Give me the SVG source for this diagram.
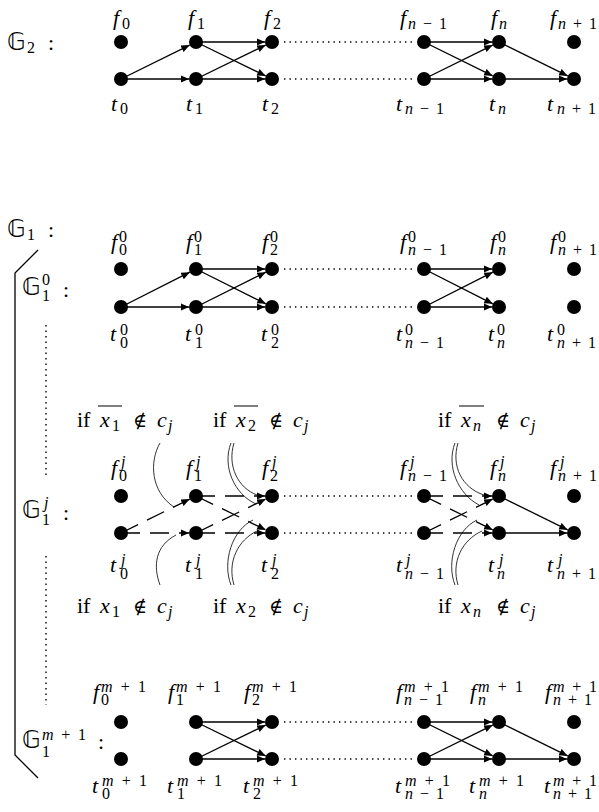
<svg xmlns="http://www.w3.org/2000/svg" width="599" height="812" viewBox="0 0 599 812">
<style>
text{font-family:"Liberation Serif","DejaVu Serif",serif;fill:#000}
.mi{font-style:italic;font-size:22px}
.mr{font-size:22px}
.si{font-style:italic;font-size:16px}
.sr{font-size:16px}
.bb{font-family:"DejaVu Sans","DejaVu Serif","Noto Sans",sans-serif;font-size:24px}
.ni{font-family:"DejaVu Serif","DejaVu Sans",serif;font-size:19px}
.e{stroke:#000;stroke-width:1.3;fill:none;marker-end:url(#ah)}
.d{stroke-dasharray:19 10}
.dt{stroke:#000;stroke-width:1.4;fill:none;stroke-dasharray:1.4 4.1}
.c{stroke:#000;stroke-width:0.8;fill:none}
.br{stroke:#000;stroke-width:1.3;fill:none}
circle{fill:#000}
</style>
<defs>
<marker id="ah" markerWidth="10" markerHeight="8" refX="8.5" refY="3.6" orient="auto" markerUnits="userSpaceOnUse"><path d="M0,0 L8.5,3.6 L0,7.2 z" fill="#000"/></marker>
</defs>

<!-- section labels -->
<g id="label-G2"><text class="bb" x="7" y="50">𝔾</text><text class="sr" x="27" y="53">2</text><text class="mr" x="48" y="50">:</text></g>
<g id="label-G1"><text class="bb" x="7" y="237">𝔾</text><text class="sr" x="27" y="240">1</text><text class="mr" x="48" y="237">:</text></g>
<g id="label-G10"><text class="bb" x="22" y="295">𝔾</text><text class="sr" x="42" y="285">0</text><text class="sr" x="42" y="301">1</text><text class="mr" x="63" y="297">:</text></g>
<g id="label-G1j"><text class="bb" x="22" y="518">𝔾</text><text class="si" x="44" y="508">j</text><text class="sr" x="42" y="525">1</text><text class="mr" x="63" y="520">:</text></g>
<g id="label-G1m"><text class="bb" x="22" y="748">𝔾</text><text class="sr" x="42" y="740" textLength="44" lengthAdjust="spacing"><tspan font-style="italic">m</tspan>+1</text><text class="sr" x="42" y="757">1</text><text class="mr" x="98" y="749">:</text></g>

<!-- bracket and vertical dots -->
<g id="bracket">
<path class="br" d="M38,250 L15,273 L15,755 L38,778"/>
<path class="dt" d="M46,325 L46,478"/>
<path class="dt" d="M46,556 L46,705"/>
</g>

<g id="connectors">
<!-- G2 -->
<path class="e" d="M121,79 L189.7,45.1"/>
<path class="e" d="M121,79 L189,79"/>
<path class="e" d="M196,42 L265,42"/>
<path class="e" d="M196,42 L265.7,75.9"/>
<path class="e" d="M196,79 L265.7,45.1"/>
<path class="e" d="M196,79 L265,79"/>
<path class="e" d="M424,42 L492,42"/>
<path class="e" d="M424,42 L492.7,75.9"/>
<path class="e" d="M424,79 L492.7,45.1"/>
<path class="e" d="M424,79 L492,79"/>
<path class="e" d="M499,42 L567.7,75.9"/>
<path class="e" d="M499,79 L567,79"/>
<path class="dt" d="M284,42 L413,42"/>
<path class="dt" d="M284,79 L413,79"/>
<!-- G1^0 -->
<path class="e" d="M121,307 L189.8,272.2"/>
<path class="e" d="M121,307 L189,307"/>
<path class="e" d="M196,269 L265,269"/>
<path class="e" d="M196,269 L265.8,303.8"/>
<path class="e" d="M196,307 L265.8,272.2"/>
<path class="e" d="M196,307 L265,307"/>
<path class="e" d="M424,269 L492,269"/>
<path class="e" d="M424,269 L492.8,303.8"/>
<path class="e" d="M424,307 L492.8,272.2"/>
<path class="e" d="M424,307 L492,307"/>
<path class="dt" d="M284,269 L413,269"/>
<path class="dt" d="M284,307 L413,307"/>
<!-- G1^j -->
<path class="e d" d="M121,533 L189.7,499.1"/>
<path class="e d" d="M121,533 L189,533"/>
<path class="e d" d="M196,496 L265,496"/>
<path class="e d" d="M196,496 L265.7,529.9"/>
<path class="e d" d="M196,533 L265.7,499.1"/>
<path class="e d" d="M196,533 L265,533"/>
<path class="e d" d="M424,496 L492,496"/>
<path class="e d" d="M424,496 L492.7,529.9"/>
<path class="e d" d="M424,533 L492.7,499.1"/>
<path class="e d" d="M424,533 L492,533"/>
<path class="e" d="M499,496 L567.7,529.9"/>
<path class="e" d="M499,533 L567,533"/>
<path class="dt" d="M284,496 L413,496"/>
<path class="dt" d="M284,533 L413,533"/>
<!-- condition curves -->
<path class="c" d="M160,443 C149,462 151,492 174,507"/>
<path class="c" d="M160,585 C153,566 155,546 176,535"/>
<path class="c" d="M231,443 C222,466 234,494 256,504"/>
<path class="c" d="M234,443 C227,466 238,488 257,495"/>
<path class="c" d="M231,585 C222,562 232,530 253,520"/>
<path class="c" d="M234,585 C227,562 238,540 257,531"/>
<path class="c" d="M455,443 C446,466 458,494 479,505"/>
<path class="c" d="M458,443 C451,466 462,488 484,495"/>
<path class="c" d="M455,585 C446,562 456,530 477,520"/>
<path class="c" d="M458,585 C451,562 462,540 482,531"/>
<!-- G1^{m+1} -->
<path class="e" d="M196,722 L265,722"/>
<path class="e" d="M196,722 L265.7,755.9"/>
<path class="e" d="M196,759 L265.7,725.1"/>
<path class="e" d="M196,759 L265,759"/>
<path class="e" d="M424,722 L492,722"/>
<path class="e" d="M424,722 L492.7,755.9"/>
<path class="e" d="M424,759 L492.7,725.1"/>
<path class="e" d="M424,759 L492,759"/>
<path class="e" d="M499,722 L567.7,755.9"/>
<path class="e" d="M499,759 L567,759"/>
<path class="dt" d="M284,722 L413,722"/>
<path class="dt" d="M284,759 L413,759"/>
</g>

<!-- G2 nodes -->
<g id="G2-f0"><circle cx="121" cy="42" r="7"/><text class="mi" x="113" y="25">f</text><text class="sr" x="122" y="29">0</text></g>
<g id="G2-f1"><circle cx="196" cy="42" r="7"/><text class="mi" x="188" y="25">f</text><text class="sr" x="197" y="29">1</text></g>
<g id="G2-f2"><circle cx="272" cy="42" r="7"/><text class="mi" x="264" y="25">f</text><text class="sr" x="273" y="29">2</text></g>
<g id="G2-fn-1"><circle cx="424" cy="42" r="7"/><text class="mi" x="400" y="25">f</text><text class="sr" x="408" y="29" textLength="39" lengthAdjust="spacing"><tspan font-style="italic">n</tspan>−1</text></g>
<g id="G2-fn"><circle cx="499" cy="42" r="7"/><text class="mi" x="491" y="25">f</text><text class="si" x="499" y="29">n</text></g>
<g id="G2-fn+1"><circle cx="574" cy="42" r="7"/><text class="mi" x="550" y="25">f</text><text class="sr" x="558" y="29" textLength="39" lengthAdjust="spacing"><tspan font-style="italic">n</tspan>+1</text></g>
<g id="G2-t0"><circle cx="121" cy="79" r="7"/><text class="mi" x="111" y="111">t</text><text class="sr" x="120" y="114">0</text></g>
<g id="G2-t1"><circle cx="196" cy="79" r="7"/><text class="mi" x="186" y="111">t</text><text class="sr" x="195" y="114">1</text></g>
<g id="G2-t2"><circle cx="272" cy="79" r="7"/><text class="mi" x="262" y="111">t</text><text class="sr" x="271" y="114">2</text></g>
<g id="G2-tn-1"><circle cx="424" cy="79" r="7"/><text class="mi" x="396" y="111">t</text><text class="sr" x="405" y="114" textLength="39" lengthAdjust="spacing"><tspan font-style="italic">n</tspan>−1</text></g>
<g id="G2-tn"><circle cx="499" cy="79" r="7"/><text class="mi" x="489" y="111">t</text><text class="si" x="498" y="114">n</text></g>
<g id="G2-tn+1"><circle cx="574" cy="79" r="7"/><text class="mi" x="547" y="111">t</text><text class="sr" x="557" y="114" textLength="39" lengthAdjust="spacing"><tspan font-style="italic">n</tspan>+1</text></g>

<!-- G1^0 nodes -->
<g id="G10-f0"><circle cx="121" cy="269" r="7"/><text class="mi" x="111" y="249">f</text><text class="sr" x="119" y="242">0</text><text class="sr" x="119" y="255">0</text></g>
<g id="G10-f1"><circle cx="196" cy="269" r="7"/><text class="mi" x="186" y="249">f</text><text class="sr" x="194" y="242">0</text><text class="sr" x="194" y="255">1</text></g>
<g id="G10-f2"><circle cx="272" cy="269" r="7"/><text class="mi" x="262" y="249">f</text><text class="sr" x="270" y="242">0</text><text class="sr" x="270" y="255">2</text></g>
<g id="G10-fn-1"><circle cx="424" cy="269" r="7"/><text class="mi" x="400" y="249">f</text><text class="sr" x="408" y="242">0</text><text class="sr" x="408" y="255" textLength="39" lengthAdjust="spacing"><tspan font-style="italic">n</tspan>−1</text></g>
<g id="G10-fn"><circle cx="499" cy="269" r="7"/><text class="mi" x="490" y="249">f</text><text class="sr" x="498" y="242">0</text><text class="si" x="498" y="255">n</text></g>
<g id="G10-fn+1"><circle cx="574" cy="269" r="7"/><text class="mi" x="550" y="249">f</text><text class="sr" x="558" y="242">0</text><text class="sr" x="558" y="255" textLength="39" lengthAdjust="spacing"><tspan font-style="italic">n</tspan>+1</text></g>
<g id="G10-t0"><circle cx="121" cy="307" r="7"/><text class="mi" x="110" y="341">t</text><text class="sr" x="120" y="335">0</text><text class="sr" x="120" y="348">0</text></g>
<g id="G10-t1"><circle cx="196" cy="307" r="7"/><text class="mi" x="185" y="341">t</text><text class="sr" x="195" y="335">0</text><text class="sr" x="195" y="348">1</text></g>
<g id="G10-t2"><circle cx="272" cy="307" r="7"/><text class="mi" x="261" y="341">t</text><text class="sr" x="271" y="335">0</text><text class="sr" x="271" y="348">2</text></g>
<g id="G10-tn-1"><circle cx="424" cy="307" r="7"/><text class="mi" x="396" y="341">t</text><text class="sr" x="405" y="335">0</text><text class="sr" x="405" y="348" textLength="39" lengthAdjust="spacing"><tspan font-style="italic">n</tspan>−1</text></g>
<g id="G10-tn"><circle cx="499" cy="307" r="7"/><text class="mi" x="488" y="341">t</text><text class="sr" x="497" y="335">0</text><text class="si" x="497" y="348">n</text></g>
<g id="G10-tn+1"><circle cx="574" cy="307" r="7"/><text class="mi" x="547" y="341">t</text><text class="sr" x="557" y="335">0</text><text class="sr" x="557" y="348" textLength="39" lengthAdjust="spacing"><tspan font-style="italic">n</tspan>+1</text></g>

<!-- G1^j nodes -->
<g id="G1j-f0"><circle cx="121" cy="496" r="7"/><text class="mi" x="111" y="475">f</text><text class="si" x="121" y="467">j</text><text class="sr" x="119" y="481">0</text></g>
<g id="G1j-f1"><circle cx="196" cy="496" r="7"/><text class="mi" x="186" y="475">f</text><text class="si" x="196" y="467">j</text><text class="sr" x="194" y="481">1</text></g>
<g id="G1j-f2"><circle cx="272" cy="496" r="7"/><text class="mi" x="262" y="475">f</text><text class="si" x="272" y="467">j</text><text class="sr" x="270" y="481">2</text></g>
<g id="G1j-fn-1"><circle cx="424" cy="496" r="7"/><text class="mi" x="400" y="475">f</text><text class="si" x="410" y="467">j</text><text class="sr" x="408" y="481" textLength="39" lengthAdjust="spacing"><tspan font-style="italic">n</tspan>−1</text></g>
<g id="G1j-fn"><circle cx="499" cy="496" r="7"/><text class="mi" x="490" y="475">f</text><text class="si" x="500" y="467">j</text><text class="si" x="498" y="481">n</text></g>
<g id="G1j-fn+1"><circle cx="574" cy="496" r="7"/><text class="mi" x="550" y="475">f</text><text class="si" x="560" y="467">j</text><text class="sr" x="558" y="481" textLength="39" lengthAdjust="spacing"><tspan font-style="italic">n</tspan>+1</text></g>
<g id="G1j-t0"><circle cx="121" cy="533" r="7"/><text class="mi" x="110" y="572">t</text><text class="si" x="121" y="565">j</text><text class="sr" x="120" y="579">0</text></g>
<g id="G1j-t1"><circle cx="196" cy="533" r="7"/><text class="mi" x="185" y="572">t</text><text class="si" x="196" y="565">j</text><text class="sr" x="195" y="579">1</text></g>
<g id="G1j-t2"><circle cx="272" cy="533" r="7"/><text class="mi" x="261" y="572">t</text><text class="si" x="272" y="565">j</text><text class="sr" x="271" y="579">2</text></g>
<g id="G1j-tn-1"><circle cx="424" cy="533" r="7"/><text class="mi" x="396" y="572">t</text><text class="si" x="406" y="565">j</text><text class="sr" x="405" y="579" textLength="39" lengthAdjust="spacing"><tspan font-style="italic">n</tspan>−1</text></g>
<g id="G1j-tn"><circle cx="499" cy="533" r="7"/><text class="mi" x="488" y="572">t</text><text class="si" x="499" y="565">j</text><text class="si" x="497" y="579">n</text></g>
<g id="G1j-tn+1"><circle cx="574" cy="533" r="7"/><text class="mi" x="547" y="572">t</text><text class="si" x="558" y="565">j</text><text class="sr" x="557" y="579" textLength="39" lengthAdjust="spacing"><tspan font-style="italic">n</tspan>+1</text></g>

<!-- condition labels -->
<g id="cond-top-1"><text class="mr" x="77" y="427">if</text><text class="mi" x="100" y="427">x</text><text class="sr" x="112" y="431">1</text><line x1="98" y1="406" x2="122" y2="406" stroke="#000" stroke-width="1"/><text class="ni" x="140" y="427" text-anchor="middle">∉</text><text class="mi" x="157" y="427">c</text><text class="si" x="168" y="431">j</text></g>
<g id="cond-top-2"><text class="mr" x="213" y="427">if</text><text class="mi" x="236" y="427">x</text><text class="sr" x="248" y="431">2</text><line x1="234" y1="406" x2="258" y2="406" stroke="#000" stroke-width="1"/><text class="ni" x="276" y="427" text-anchor="middle">∉</text><text class="mi" x="293" y="427">c</text><text class="si" x="304" y="431">j</text></g>
<g id="cond-top-n"><text class="mr" x="438" y="427">if</text><text class="mi" x="461" y="427">x</text><text class="si" x="473" y="431">n</text><line x1="459" y1="406" x2="484" y2="406" stroke="#000" stroke-width="1"/><text class="ni" x="503" y="427" text-anchor="middle">∉</text><text class="mi" x="520" y="427">c</text><text class="si" x="531" y="431">j</text></g>
<g id="cond-bot-1"><text class="mr" x="77" y="613">if</text><text class="mi" x="100" y="613">x</text><text class="sr" x="112" y="617">1</text><text class="ni" x="140" y="613" text-anchor="middle">∉</text><text class="mi" x="157" y="613">c</text><text class="si" x="168" y="617">j</text></g>
<g id="cond-bot-2"><text class="mr" x="213" y="613">if</text><text class="mi" x="236" y="613">x</text><text class="sr" x="248" y="617">2</text><text class="ni" x="276" y="613" text-anchor="middle">∉</text><text class="mi" x="293" y="613">c</text><text class="si" x="304" y="617">j</text></g>
<g id="cond-bot-n"><text class="mr" x="438" y="613">if</text><text class="mi" x="461" y="613">x</text><text class="si" x="473" y="617">n</text><text class="ni" x="503" y="613" text-anchor="middle">∉</text><text class="mi" x="520" y="613">c</text><text class="si" x="531" y="617">j</text></g>

<!-- G1^{m+1} nodes -->
<g id="G1m-f0"><circle cx="121" cy="722" r="7"/><text class="mi" x="93" y="699">f</text><text class="sr" x="101" y="692" textLength="45" lengthAdjust="spacing"><tspan font-style="italic">m</tspan>+1</text><text class="sr" x="101" y="705">0</text></g>
<g id="G1m-f1"><circle cx="196" cy="722" r="7"/><text class="mi" x="168" y="699">f</text><text class="sr" x="176" y="692" textLength="45" lengthAdjust="spacing"><tspan font-style="italic">m</tspan>+1</text><text class="sr" x="176" y="705">1</text></g>
<g id="G1m-f2"><circle cx="272" cy="722" r="7"/><text class="mi" x="244" y="699">f</text><text class="sr" x="252" y="692" textLength="45" lengthAdjust="spacing"><tspan font-style="italic">m</tspan>+1</text><text class="sr" x="252" y="705">2</text></g>
<g id="G1m-fn-1"><circle cx="424" cy="722" r="7"/><text class="mi" x="396" y="699">f</text><text class="sr" x="404" y="692" textLength="45" lengthAdjust="spacing"><tspan font-style="italic">m</tspan>+1</text><text class="sr" x="404" y="705" textLength="39" lengthAdjust="spacing"><tspan font-style="italic">n</tspan>−1</text></g>
<g id="G1m-fn"><circle cx="499" cy="722" r="7"/><text class="mi" x="470" y="699">f</text><text class="sr" x="478" y="692" textLength="45" lengthAdjust="spacing"><tspan font-style="italic">m</tspan>+1</text><text class="si" x="478" y="705">n</text></g>
<g id="G1m-fn+1"><circle cx="574" cy="722" r="7"/><text class="mi" x="545" y="699">f</text><text class="sr" x="553" y="692" textLength="44" lengthAdjust="spacing"><tspan font-style="italic">m</tspan>+1</text><text class="sr" x="553" y="705" textLength="39" lengthAdjust="spacing"><tspan font-style="italic">n</tspan>+1</text></g>
<g id="G1m-t0"><circle cx="121" cy="759" r="7"/><text class="mi" x="92" y="793">t</text><text class="sr" x="102" y="786" textLength="45" lengthAdjust="spacing"><tspan font-style="italic">m</tspan>+1</text><text class="sr" x="102" y="799">0</text></g>
<g id="G1m-t1"><circle cx="196" cy="759" r="7"/><text class="mi" x="167" y="793">t</text><text class="sr" x="177" y="786" textLength="45" lengthAdjust="spacing"><tspan font-style="italic">m</tspan>+1</text><text class="sr" x="177" y="799">1</text></g>
<g id="G1m-t2"><circle cx="272" cy="759" r="7"/><text class="mi" x="243" y="793">t</text><text class="sr" x="253" y="786" textLength="45" lengthAdjust="spacing"><tspan font-style="italic">m</tspan>+1</text><text class="sr" x="253" y="799">2</text></g>
<g id="G1m-tn-1"><circle cx="424" cy="759" r="7"/><text class="mi" x="395" y="793">t</text><text class="sr" x="405" y="786" textLength="45" lengthAdjust="spacing"><tspan font-style="italic">m</tspan>+1</text><text class="sr" x="405" y="799" textLength="39" lengthAdjust="spacing"><tspan font-style="italic">n</tspan>−1</text></g>
<g id="G1m-tn"><circle cx="499" cy="759" r="7"/><text class="mi" x="469" y="793">t</text><text class="sr" x="479" y="786" textLength="45" lengthAdjust="spacing"><tspan font-style="italic">m</tspan>+1</text><text class="si" x="479" y="799">n</text></g>
<g id="G1m-tn+1"><circle cx="574" cy="759" r="7"/><text class="mi" x="544" y="793">t</text><text class="sr" x="553" y="786" textLength="44" lengthAdjust="spacing"><tspan font-style="italic">m</tspan>+1</text><text class="sr" x="553" y="799" textLength="39" lengthAdjust="spacing"><tspan font-style="italic">n</tspan>+1</text></g>
</svg>
